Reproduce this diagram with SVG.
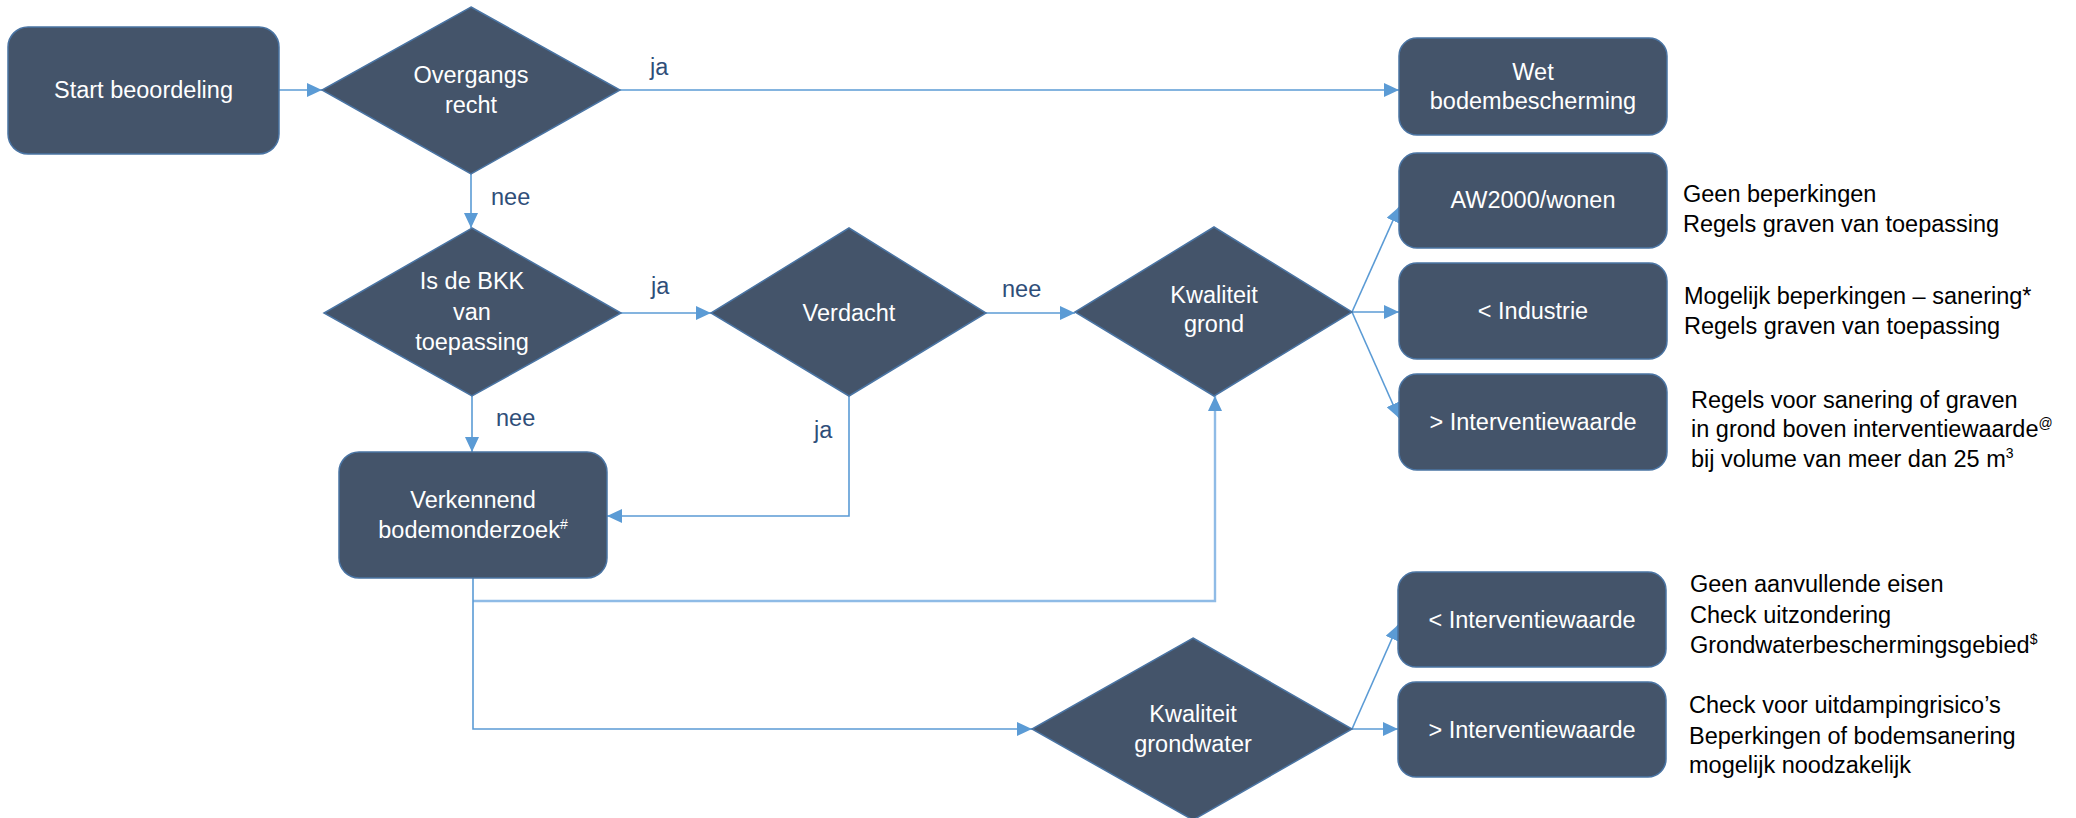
<svg xmlns="http://www.w3.org/2000/svg" width="2076" height="818" viewBox="0 0 2076 818">
<style>
.box{fill:#44546A;stroke:#4A74A3;stroke-width:1.5}
.nt{fill:#FFFFFF;font-family:"Liberation Sans",Arial,sans-serif;font-size:23.5px;text-anchor:middle}
.note{fill:#000000;font-family:"Liberation Sans",Arial,sans-serif;font-size:23.5px}
.lbl{fill:#2F4E79;font-family:"Liberation Sans",Arial,sans-serif;font-size:23.5px}
.con{fill:none;stroke:#5B9BD5;stroke-width:1.6}
.sup{font-size:14px}
</style>
<defs>
<marker id="arr" markerUnits="userSpaceOnUse" markerWidth="16" markerHeight="14" refX="15" refY="7" orient="auto">
<path d="M0,0 L15,7 L0,14 z" fill="#5B9BD5"/>
</marker>
</defs>
<rect width="2076" height="818" fill="#FFFFFF"/>

<g id="connectors">
<path class="con" d="M279,90 H322" marker-end="url(#arr)"/>
<path class="con" d="M620,90 H1399" marker-end="url(#arr)"/>
<path class="con" d="M471,174 V228" marker-end="url(#arr)"/>
<path class="con" d="M621,313 H711" marker-end="url(#arr)"/>
<path class="con" d="M986,313 H1075" marker-end="url(#arr)"/>
<path class="con" d="M472,396 V452" marker-end="url(#arr)"/>
<path class="con" d="M849,396 V516 H607" marker-end="url(#arr)"/>
<path class="con" d="M473,601 H1215 V396" marker-end="url(#arr)" style="stroke:#8FBBE6;stroke-width:2.4"/>
<path class="con" d="M473,578 V729 H1032" marker-end="url(#arr)"/>
<path class="con" d="M1352,312 L1399,207" marker-end="url(#arr)"/>
<path class="con" d="M1352,312 H1399" marker-end="url(#arr)"/>
<path class="con" d="M1352,312 L1399,418" marker-end="url(#arr)"/>
<path class="con" d="M1352,729 L1398,625" marker-end="url(#arr)"/>
<path class="con" d="M1352,729 H1398" marker-end="url(#arr)"/>
<text class="lbl" x="650" y="75">ja</text>
<text class="lbl" x="491" y="205">nee</text>
<text class="lbl" x="651" y="294">ja</text>
<text class="lbl" x="1002" y="297">nee</text>
<text class="lbl" x="496" y="426">nee</text>
<text class="lbl" x="814" y="438">ja</text>
</g>

<g id="start">
<rect class="box" x="8" y="27" width="271" height="127" rx="20"/>
<text class="nt" x="143.5" y="98">Start beoordeling</text>
</g>

<g id="overgangsrecht">
<polygon class="box" points="471,7 620,90 471,174 322,90"/>
<text class="nt" x="471" y="83">Overgangs</text>
<text class="nt" x="471" y="113">recht</text>
</g>

<g id="wet">
<rect class="box" x="1399" y="38" width="268" height="97" rx="18"/>
<text class="nt" x="1533" y="80">Wet</text>
<text class="nt" x="1533" y="109">bodembescherming</text>
</g>

<g id="bkk">
<polygon class="box" points="472,228 621,313 472,396 324,313"/>
<text class="nt" x="472" y="289">Is de BKK</text>
<text class="nt" x="472" y="320">van</text>
<text class="nt" x="472" y="350">toepassing</text>
</g>

<g id="verdacht">
<polygon class="box" points="849,228 986,313 849,396 711,313"/>
<text class="nt" x="849" y="321">Verdacht</text>
</g>

<g id="kwaliteit-grond">
<polygon class="box" points="1214,227 1352,312 1214,396 1075,312"/>
<text class="nt" x="1214" y="303">Kwaliteit</text>
<text class="nt" x="1214" y="332">grond</text>
</g>

<g id="verkennend">
<rect class="box" x="339" y="452" width="268" height="126" rx="20"/>
<text class="nt" x="473" y="508">Verkennend</text>
<text class="nt" x="473" y="538">bodemonderzoek<tspan class="sup" dy="-9">#</tspan></text>
</g>

<g id="aw2000">
<rect class="box" x="1399" y="153" width="268" height="95" rx="18"/>
<text class="nt" x="1533" y="208">AW2000/wonen</text>
</g>

<g id="industrie">
<rect class="box" x="1399" y="263" width="268" height="96" rx="18"/>
<text class="nt" x="1533" y="319">&lt; Industrie</text>
</g>

<g id="grond-interventie">
<rect class="box" x="1399" y="374" width="268" height="96" rx="18"/>
<text class="nt" x="1533" y="430">&gt; Interventiewaarde</text>
</g>

<g id="kwaliteit-grondwater">
<polygon class="box" points="1193,638 1352,729 1193,820 1032,729"/>
<text class="nt" x="1193" y="722">Kwaliteit</text>
<text class="nt" x="1193" y="752">grondwater</text>
</g>

<g id="gw-onder">
<rect class="box" x="1398" y="572" width="268" height="95" rx="18"/>
<text class="nt" x="1532" y="628">&lt; Interventiewaarde</text>
</g>

<g id="gw-boven">
<rect class="box" x="1398" y="682" width="268" height="95" rx="18"/>
<text class="nt" x="1532" y="738">&gt; Interventiewaarde</text>
</g>

<g id="notes">
<text class="note" x="1683" y="202">Geen beperkingen</text>
<text class="note" x="1683" y="232">Regels graven van toepassing</text>
<text class="note" x="1684" y="304">Mogelijk beperkingen – sanering*</text>
<text class="note" x="1684" y="334">Regels graven van toepassing</text>
<text class="note" x="1691" y="408">Regels voor sanering of graven</text>
<text class="note" x="1691" y="437">in grond boven interventiewaarde<tspan class="sup" dy="-9">@</tspan></text>
<text class="note" x="1691" y="467">bij volume van meer dan 25 m<tspan class="sup" dy="-9">3</tspan></text>
<text class="note" x="1690" y="592">Geen aanvullende eisen</text>
<text class="note" x="1690" y="623">Check uitzondering</text>
<text class="note" x="1690" y="653">Grondwaterbeschermingsgebied<tspan class="sup" dy="-9">$</tspan></text>
<text class="note" x="1689" y="713">Check voor uitdampingrisico’s</text>
<text class="note" x="1689" y="744">Beperkingen of bodemsanering</text>
<text class="note" x="1689" y="773">mogelijk noodzakelijk</text>
</g>
</svg>
